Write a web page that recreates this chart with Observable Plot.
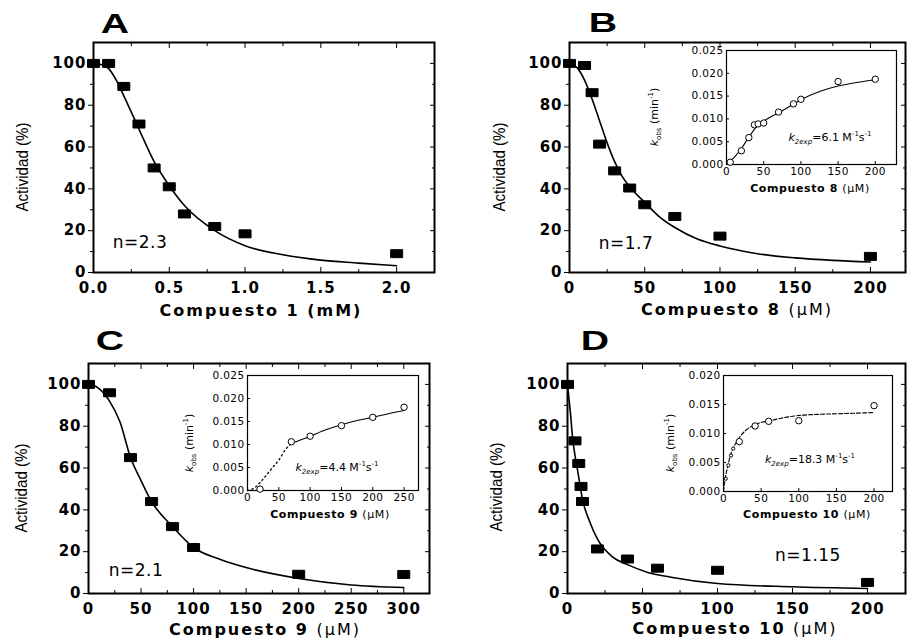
<!DOCTYPE html>
<html><head><meta charset="utf-8">
<script src="https://cdn.jsdelivr.net/npm/d3@7"></script>
<script src="https://cdn.jsdelivr.net/npm/@observablehq/plot@0.6"></script>
<style>
html,body{margin:0;padding:0;background:#fff;color:#000;}
#root{position:relative;width:907px;height:638px;overflow:hidden;background:#fff;}
#root svg{position:absolute;}
svg.main text{font-family:"DejaVu Sans",sans-serif;font-weight:bold;font-size:15px;letter-spacing:1px;}
svg.inset text{font-family:"DejaVu Sans",sans-serif;font-size:10.5px;letter-spacing:0.4px;}
.lbl{position:absolute;white-space:nowrap;line-height:1;color:#000;}
.letter{font-family:"Liberation Sans",Arial,sans-serif;font-weight:bold;font-size:28px;}
.ylab{font-family:"Liberation Sans",Arial,sans-serif;font-size:17px;}
.xlab{font-family:"DejaVu Sans",sans-serif;font-weight:bold;font-size:16px;letter-spacing:2px;}
.xlab .n{font-weight:normal;}
.nlab{font-family:"DejaVu Sans",sans-serif;font-size:17px;letter-spacing:0.5px;}
.ann{font-family:"DejaVu Sans",sans-serif;font-size:11px;}
.ann sub,.ann sup{font-size:7px;line-height:0;}
.ixlab{font-family:"DejaVu Sans",sans-serif;font-weight:bold;font-size:11px;letter-spacing:0.6px;}
.ixlab .n{font-weight:normal;}
</style></head><body><div id="root"></div>
<script>
// ---------- Data ----------
// Panel A: Compuesto 1 (mM)
const concA = [0, 0.1, 0.2, 0.3, 0.4, 0.5, 0.6, 0.8, 1.0, 2.0];
const actA  = [100, 100, 89, 71, 50, 41, 28, 22, 18.5, 9];
const fitXA = [0, 0.05, 0.1, 0.15, 0.2, 0.3, 0.4, 0.5, 0.6, 0.8, 1.0, 1.25, 1.5, 1.75, 2.0];
const fitYA = [100, 99.5, 97.5, 92, 84.5, 68.6, 53, 41.5, 32, 20, 12.8, 8.5, 5.9, 4.5, 3.2];
// Panel B: Compuesto 8 (µM)
const concB = [0, 10, 15, 20, 30, 40, 50, 70, 100, 200];
const actB  = [100, 99, 86, 61.4, 48.6, 40.4, 32.4, 26.8, 17.4, 7.7];
const fitXB = [0, 5, 10, 15, 20, 25, 30, 35, 40, 50, 60, 70, 85, 100, 125, 150, 175, 200];
const fitYB = [100, 98, 92, 83, 72.5, 62, 53, 46, 41, 33.5, 26.5, 21.5, 16, 12.7, 9, 7, 5.8, 5];
// Panel C: Compuesto 9 (µM)
const concC = [0, 20, 40, 60, 80, 100, 200, 300];
const actC  = [100, 96, 65, 44, 32, 22, 9.2, 9.1];
const fitXC = [0, 5, 10, 20, 30, 40, 50, 60, 80, 100, 125, 150, 200, 250, 300];
const fitYC = [100, 99.5, 98, 92, 82, 65, 54, 44, 32, 22, 16.4, 12.4, 7.2, 4.1, 2.9];
// Panel D: Compuesto 10 (µM)
const concD = [0, 5, 7.5, 9, 10, 20, 40, 60, 100, 200];
const actD  = [100, 73, 62.2, 51.2, 44, 21.3, 16.5, 12.1, 11.1, 5.3];
const fitXD = [0, 1, 2, 3.3, 5, 6.7, 10, 15, 20, 30, 40, 53, 69, 100, 150, 200];
const fitYD = [100, 93, 86, 75, 66, 59, 45, 34, 26, 17.5, 13.8, 10.2, 7.8, 4.8, 3.2, 2.4];

// Insets: k_obs (min^-1) vs concentration
const insBx = [5, 20, 30, 37.5, 42.5, 50, 70, 90, 100, 150, 200];
const insBy = [0.0005, 0.003, 0.0059, 0.0087, 0.0089, 0.0091, 0.0115, 0.0133, 0.0143, 0.0182, 0.0187];
const insBfitX = [0, 10, 20, 30, 40, 50, 75, 100, 125, 150, 175, 200];
const insBfitY = [0, 0.0015, 0.0035, 0.006, 0.0082, 0.0095, 0.0118, 0.0142, 0.016, 0.0172, 0.018, 0.0186];

const insCx = [20, 70, 100, 150, 200, 250];
const insCy = [0.0003, 0.0106, 0.0118, 0.0141, 0.0159, 0.0181];
const insCdotX = [0, 10, 20, 30, 40, 50, 60, 70];
const insCdotY = [0, 0.0005, 0.0017, 0.0033, 0.005, 0.0066, 0.0088, 0.0102];
const insCfitX = [70, 100, 125, 150, 175, 200, 225, 250];
const insCfitY = [0.0102, 0.0118, 0.0132, 0.0143, 0.0152, 0.0159, 0.0167, 0.0174];

const insDsmallX = [3, 6.5, 10, 13];
const insDsmallY = [0.0022, 0.0045, 0.0062, 0.0074];
const insDx = [21, 42, 60, 100, 200];
const insDy = [0.0086, 0.0113, 0.0121, 0.0122, 0.0148];
const insDfitX = [0, 2, 5, 10, 15, 20, 30, 40, 50, 62, 75, 100, 125, 150, 175, 200];
const insDfitY = [0, 0.002, 0.004, 0.0066, 0.008, 0.0091, 0.0106, 0.0114, 0.0119, 0.0122, 0.0126, 0.0131, 0.0133, 0.0134, 0.0135, 0.0136];

// Ticks
const yTicksMain = [0, 20, 40, 60, 80, 100];
const yMinorMain = [10, 30, 50, 70, 90];
const xTicksA = [0, 0.5, 1.0, 1.5, 2.0];
const xMinorA = [0.25, 0.75, 1.25, 1.75];
const xTicks200 = [0, 50, 100, 150, 200];
const xMinor200 = [25, 75, 125, 175];
const xTicksC = [0, 50, 100, 150, 200, 250, 300];
const xMinorC = [25, 75, 125, 175, 225, 275];
const insYTicks25 = [0, 0.005, 0.01, 0.015, 0.02, 0.025];
const insYTicks20 = [0, 0.005, 0.01, 0.015, 0.02];
const insXTicksC = [0, 50, 100, 150, 200, 250];

// ---------- Drawing ----------
const root = document.getElementById("root");
const zip = (xs, ys) => xs.map((x, i) => ({x, y: ys[i]}));
const rectSymbol = {draw(ctx) { ctx.moveTo(-6, -4); ctx.lineTo(6, -4); ctx.lineTo(6, 4); ctx.lineTo(-6, 4); ctx.closePath(); }};

function place(svg, left, top, cls) {
  svg.classList.add(cls);
  svg.style.left = left + "px";
  svg.style.top = top + "px";
  root.appendChild(svg);
}

function mainPanel({left, top, width, ml, mr, xDomain, xTicks, xMinor, xFormat, conc, act, fitX, fitY}) {
  const svg = Plot.plot({
    width, height: 300, marginLeft: ml, marginRight: mr, marginTop: 42, marginBottom: 28,
    x: {domain: xDomain}, y: {domain: [0, 110]},
    style: {background: "transparent", overflow: "visible"},
    marks: [
      Plot.axisY({ticks: yTicksMain, anchor: "left", tickSize: 5, tickPadding: 2, label: null}),
      Plot.axisY({ticks: yMinorMain, anchor: "left", tickSize: 3, fill: "none", label: null}),
      Plot.axisY({ticks: yTicksMain, anchor: "right", tickSize: -5, fill: "none", label: null}),
      Plot.axisY({ticks: yMinorMain, anchor: "right", tickSize: -3, fill: "none", label: null}),
      Plot.axisX({ticks: xTicks, anchor: "bottom", tickSize: 0, tickPadding: 10, tickFormat: xFormat, label: null}),
      Plot.axisX({ticks: xTicks, anchor: "bottom", tickSize: -5, fill: "none", label: null}),
      Plot.axisX({ticks: xMinor, anchor: "bottom", tickSize: -3, fill: "none", label: null}),
      Plot.axisX({ticks: xTicks, anchor: "top", tickSize: -5, fill: "none", label: null}),
      Plot.axisX({ticks: xMinor, anchor: "top", tickSize: -3, fill: "none", label: null}),
      Plot.frame({strokeWidth: 2}),
      Plot.line(zip(fitX, fitY), {x: "x", y: "y", strokeWidth: 1.6, curve: "monotone-x"}),
      Plot.dot(zip(conc, act), {x: "x", y: "y", symbol: rectSymbol, fill: "black", stroke: "black", strokeWidth: 1, strokeLinejoin: "round"})
    ]
  });
  place(svg, left, top, "main");
}

function insetPanel({fl, ft, fw, fh, xDomain, yDomain, xTicks, yTicks, marks}) {
  const ml = 48, mt = 8, mr = 6, mb = 22;
  const svg = Plot.plot({
    width: ml + fw + mr, height: mt + fh + mb, marginLeft: ml, marginRight: mr, marginTop: mt, marginBottom: mb,
    x: {domain: xDomain}, y: {domain: yDomain},
    style: {background: "transparent", overflow: "visible"},
    marks: [
      Plot.frame({fill: "white", stroke: "none"}),
      Plot.axisY({ticks: yTicks, anchor: "left", tickSize: 0, tickPadding: 3, tickFormat: d3.format(".3f"), label: null}),
      Plot.axisY({ticks: yTicks, anchor: "left", tickSize: -3, fill: "none", label: null}),
      Plot.axisX({ticks: xTicks, anchor: "bottom", tickSize: 0, tickPadding: 3, tickFormat: d3.format("d"), label: null}),
      Plot.axisX({ticks: xTicks, anchor: "bottom", tickSize: -3, fill: "none", label: null}),
      Plot.frame({strokeWidth: 1.2}),
      ...marks
    ]
  });
  place(svg, fl - ml, ft - mt, "inset");
}

function addLabel(html, cx, cy, cls, extra) {
  const d = document.createElement("div");
  d.className = "lbl " + cls;
  d.innerHTML = html;
  d.style.left = cx + "px";
  d.style.top = cy + "px";
  d.style.transform = "translate(-50%,-50%)" + (extra || "");
  root.appendChild(d);
}

const fmt1 = d3.format(".1f"), fmtD = d3.format("d");
mainPanel({left: 0, top: 0, width: 453, ml: 93, mr: 19, xDomain: [0, 2.25], xTicks: xTicksA, xMinor: xMinorA, xFormat: fmt1, conc: concA, act: actA, fitX: fitXA, fitY: fitYA});
mainPanel({left: 453, top: 0, width: 454, ml: 116, mr: 2, xDomain: [0, 223.3], xTicks: xTicks200, xMinor: xMinor200, xFormat: fmtD, conc: concB, act: actB, fitX: fitXB, fitY: fitYB});
mainPanel({left: 0, top: 321, width: 453, ml: 88, mr: 24, xDomain: [0, 324.5], xTicks: xTicksC, xMinor: xMinorC, xFormat: fmtD, conc: concC, act: actC, fitX: fitXC, fitY: fitYC});
mainPanel({left: 453, top: 321, width: 454, ml: 114, mr: 2, xDomain: [0, 225.3], xTicks: xTicks200, xMinor: xMinor200, xFormat: fmtD, conc: concD, act: actD, fitX: fitXD, fitY: fitYD});

const circ = (xs, ys, r) => Plot.dot(zip(xs, ys), {x: "x", y: "y", r: r || 3.2, stroke: "black", fill: "white", strokeWidth: 1});
insetPanel({fl: 726, ft: 50, fw: 170, fh: 114, xDomain: [0, 228.5], yDomain: [0, 0.025], xTicks: xTicks200, yTicks: insYTicks25,
  marks: [Plot.line(zip(insBfitX, insBfitY), {x: "x", y: "y", strokeWidth: 1.1, curve: "monotone-x"}), circ(insBx, insBy)]});
insetPanel({fl: 247, ft: 375, fw: 171, fh: 115, xDomain: [0, 273], yDomain: [0, 0.025], xTicks: insXTicksC, yTicks: insYTicks25,
  marks: [Plot.line(zip(insCdotX, insCdotY), {x: "x", y: "y", strokeWidth: 1.3, strokeDasharray: "1.5,3", curve: "monotone-x"}),
          Plot.line(zip(insCfitX, insCfitY), {x: "x", y: "y", strokeWidth: 1.1, curve: "monotone-x"}), circ(insCx, insCy)]});
insetPanel({fl: 723, ft: 375, fw: 169, fh: 116, xDomain: [0, 224.5], yDomain: [0, 0.020], xTicks: xTicks200, yTicks: insYTicks20,
  marks: [Plot.line(zip(insDfitX, insDfitY), {x: "x", y: "y", strokeWidth: 1.1, strokeDasharray: "4,2", curve: "monotone-x"}),
          circ(insDsmallX, insDsmallY, 1.6), circ(insDx, insDy)]});

// Panel letters
addLabel("A", 115, 24, "letter", " scaleX(1.4)");
addLabel("B", 603, 23, "letter", " scaleX(1.4)");
addLabel("C", 110, 341, "letter", " scaleX(1.4)");
addLabel("D", 595, 341, "letter", " scaleX(1.4)");
// Y axis labels
const yl = "Actividad (%)";
addLabel(yl, 22, 167, "ylab", " rotate(-90deg) scaleX(0.89)");
addLabel(yl, 499, 167, "ylab", " rotate(-90deg) scaleX(0.89)");
addLabel(yl, 21, 488, "ylab", " rotate(-90deg) scaleX(0.89)");
addLabel(yl, 496, 487, "ylab", " rotate(-90deg) scaleX(0.89)");
// X axis labels
addLabel("Compuesto 1 (mM)", 261, 311, "xlab");
addLabel('Compuesto 8 <span class="n">(µM)</span>', 737, 310, "xlab");
addLabel('Compuesto 9 <span class="n">(µM)</span>', 265, 630, "xlab");
addLabel('Compuesto 10 <span class="n">(µM)</span>', 735, 629, "xlab");
// Hill coefficients
addLabel("n=2.3", 140, 242, "nlab");
addLabel("n=1.7", 626, 243, "nlab");
addLabel("n=2.1", 136, 570, "nlab");
addLabel("n=1.15", 808, 555, "nlab");
// Inset annotations
const k2 = v => `<i>k</i><sub><i>2exp</i></sub>=${v} M<sup>-1</sup>s<sup>-1</sup>`;
addLabel(k2("6.1"), 830, 137, "ann");
addLabel(k2("4.4"), 337, 467, "ann");
addLabel(k2("18.3"), 810, 459, "ann");
const kobs = "<i>k</i><sub>obs</sub> (min<sup>-1</sup>)";
addLabel(kobs, 654, 117, "ann", " rotate(-90deg)");
addLabel(kobs, 189, 443, "ann", " rotate(-90deg)");
addLabel(kobs, 670, 443, "ann", " rotate(-90deg)");
addLabel('Compuesto 8 <span class="n">(µM)</span>', 810, 188, "ixlab");
addLabel('Compuesto 9 <span class="n">(µM)</span>', 330, 514, "ixlab");
addLabel('Compuesto 10 <span class="n">(µM)</span>', 807, 514, "ixlab");
</script></body></html>
